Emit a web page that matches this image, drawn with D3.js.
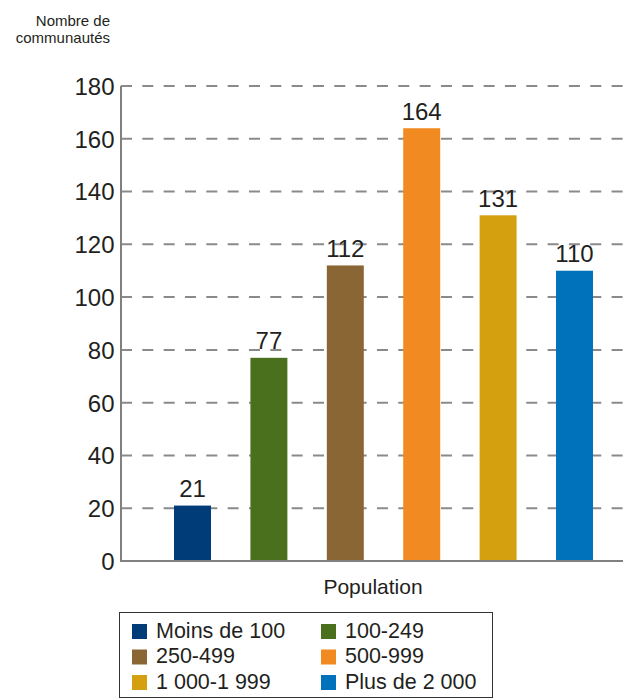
<!DOCTYPE html>
<html>
<head>
<meta charset="utf-8">
<script src="https://cdn.jsdelivr.net/npm/d3@7"></script>
<style>
  html, body { margin: 0; padding: 0; background: #fff; }
  svg { display: block; font-family: "Liberation Sans", Arial, Helvetica, sans-serif; }
</style>
</head>
<body>
<svg id="chart" width="625" height="698"></svg>
<script>
// Communities by population size
const categories = ["Moins de 100", "100-249", "250-499", "500-999", "1 000-1 999", "Plus de 2 000"];
const values = [21, 77, 112, 164, 131, 110];
const colors = ["#003c78", "#4a701e", "#8a6634", "#f08a21", "#d4a00f", "#0072bc"];
const yTicks = [0, 20, 40, 60, 80, 100, 120, 140, 160, 180];

const svg = d3.select("#chart");
const textColor = "#231f20";
const gridColor = "#8a8a8a";

const plot = { left: 121, right: 623, top: 86, bottom: 561 };

const y = d3.scaleLinear().domain([0, 180]).range([plot.bottom, plot.top]);
const x = d3.scaleBand()
  .domain(categories)
  .range([154.3, 612.7])
  .paddingInner(0.516)
  .paddingOuter(0.258);

// Dashed horizontal gridlines
svg.append("g")
  .selectAll("line")
  .data(yTicks.filter(d => d > 0))
  .join("line")
  .attr("x1", plot.left)
  .attr("x2", plot.right)
  .attr("y1", d => y(d))
  .attr("y2", d => y(d))
  .attr("stroke", gridColor)
  .attr("stroke-width", 2)
  .attr("stroke-dasharray", "11,10.33");

// Y axis (labels only; the line is drawn separately)
const yAxis = svg.append("g")
  .attr("transform", `translate(${plot.left},0)`)
  .call(d3.axisLeft(y).tickValues(yTicks).tickSize(0).tickPadding(6.5).tickFormat(d3.format("d")));
yAxis.select(".domain").remove();
yAxis.selectAll("text")
  .attr("fill", textColor)
  .attr("font-size", 24)
  .attr("font-family", "Liberation Sans, Arial, sans-serif")
  .attr("dy", "0.35em");

// Bars
svg.append("g")
  .selectAll("rect")
  .data(values)
  .join("rect")
  .attr("x", (d, i) => x(categories[i]))
  .attr("y", d => y(d))
  .attr("width", x.bandwidth())
  .attr("height", d => y(0) - y(d))
  .attr("fill", (d, i) => colors[i]);

// Value labels
svg.append("g")
  .selectAll("text")
  .data(values)
  .join("text")
  .attr("x", (d, i) => x(categories[i]) + x.bandwidth() / 2)
  .attr("y", d => y(d) - 8.5)
  .attr("text-anchor", "middle")
  .attr("fill", textColor)
  .attr("font-size", 24)
  .text(d => d);

// Axis lines
svg.append("line")
  .attr("x1", plot.left).attr("x2", plot.left)
  .attr("y1", plot.top).attr("y2", plot.bottom)
  .attr("stroke", "#808080").attr("stroke-width", 2);
svg.append("line")
  .attr("x1", plot.left - 1).attr("x2", plot.right)
  .attr("y1", plot.bottom).attr("y2", plot.bottom)
  .attr("stroke", "#808080").attr("stroke-width", 2);

// Axis titles
const yTitle = svg.append("text")
  .attr("text-anchor", "end")
  .attr("fill", textColor)
  .attr("font-size", 15);
yTitle.append("tspan").attr("x", 110).attr("y", 25.5).text("Nombre de");
yTitle.append("tspan").attr("x", 110).attr("y", 42.5).text("communautés");

svg.append("text")
  .attr("x", 373)
  .attr("y", 594)
  .attr("text-anchor", "middle")
  .attr("fill", textColor)
  .attr("font-size", 21)
  .text("Population");

// Legend
const legend = svg.append("g");
legend.append("rect")
  .attr("x", 119.5).attr("y", 612.5)
  .attr("width", 373).attr("height", 85)
  .attr("fill", "none")
  .attr("stroke", "#333")
  .attr("stroke-width", 1);

const colX = [132, 321];
const rowY = [624, 649.5, 675];
const items = legend.selectAll("g.item")
  .data(categories)
  .join("g")
  .attr("class", "item")
  .attr("transform", (d, i) => `translate(${colX[i % 2]},${rowY[Math.floor(i / 2)]})`);
items.append("rect")
  .attr("width", 15).attr("height", 15)
  .attr("fill", (d, i) => colors[i]);
items.append("text")
  .attr("x", 24)
  .attr("y", 13.5)
  .attr("fill", textColor)
  .attr("font-size", 21.5)
  .text(d => d);
</script>
</body>
</html>
